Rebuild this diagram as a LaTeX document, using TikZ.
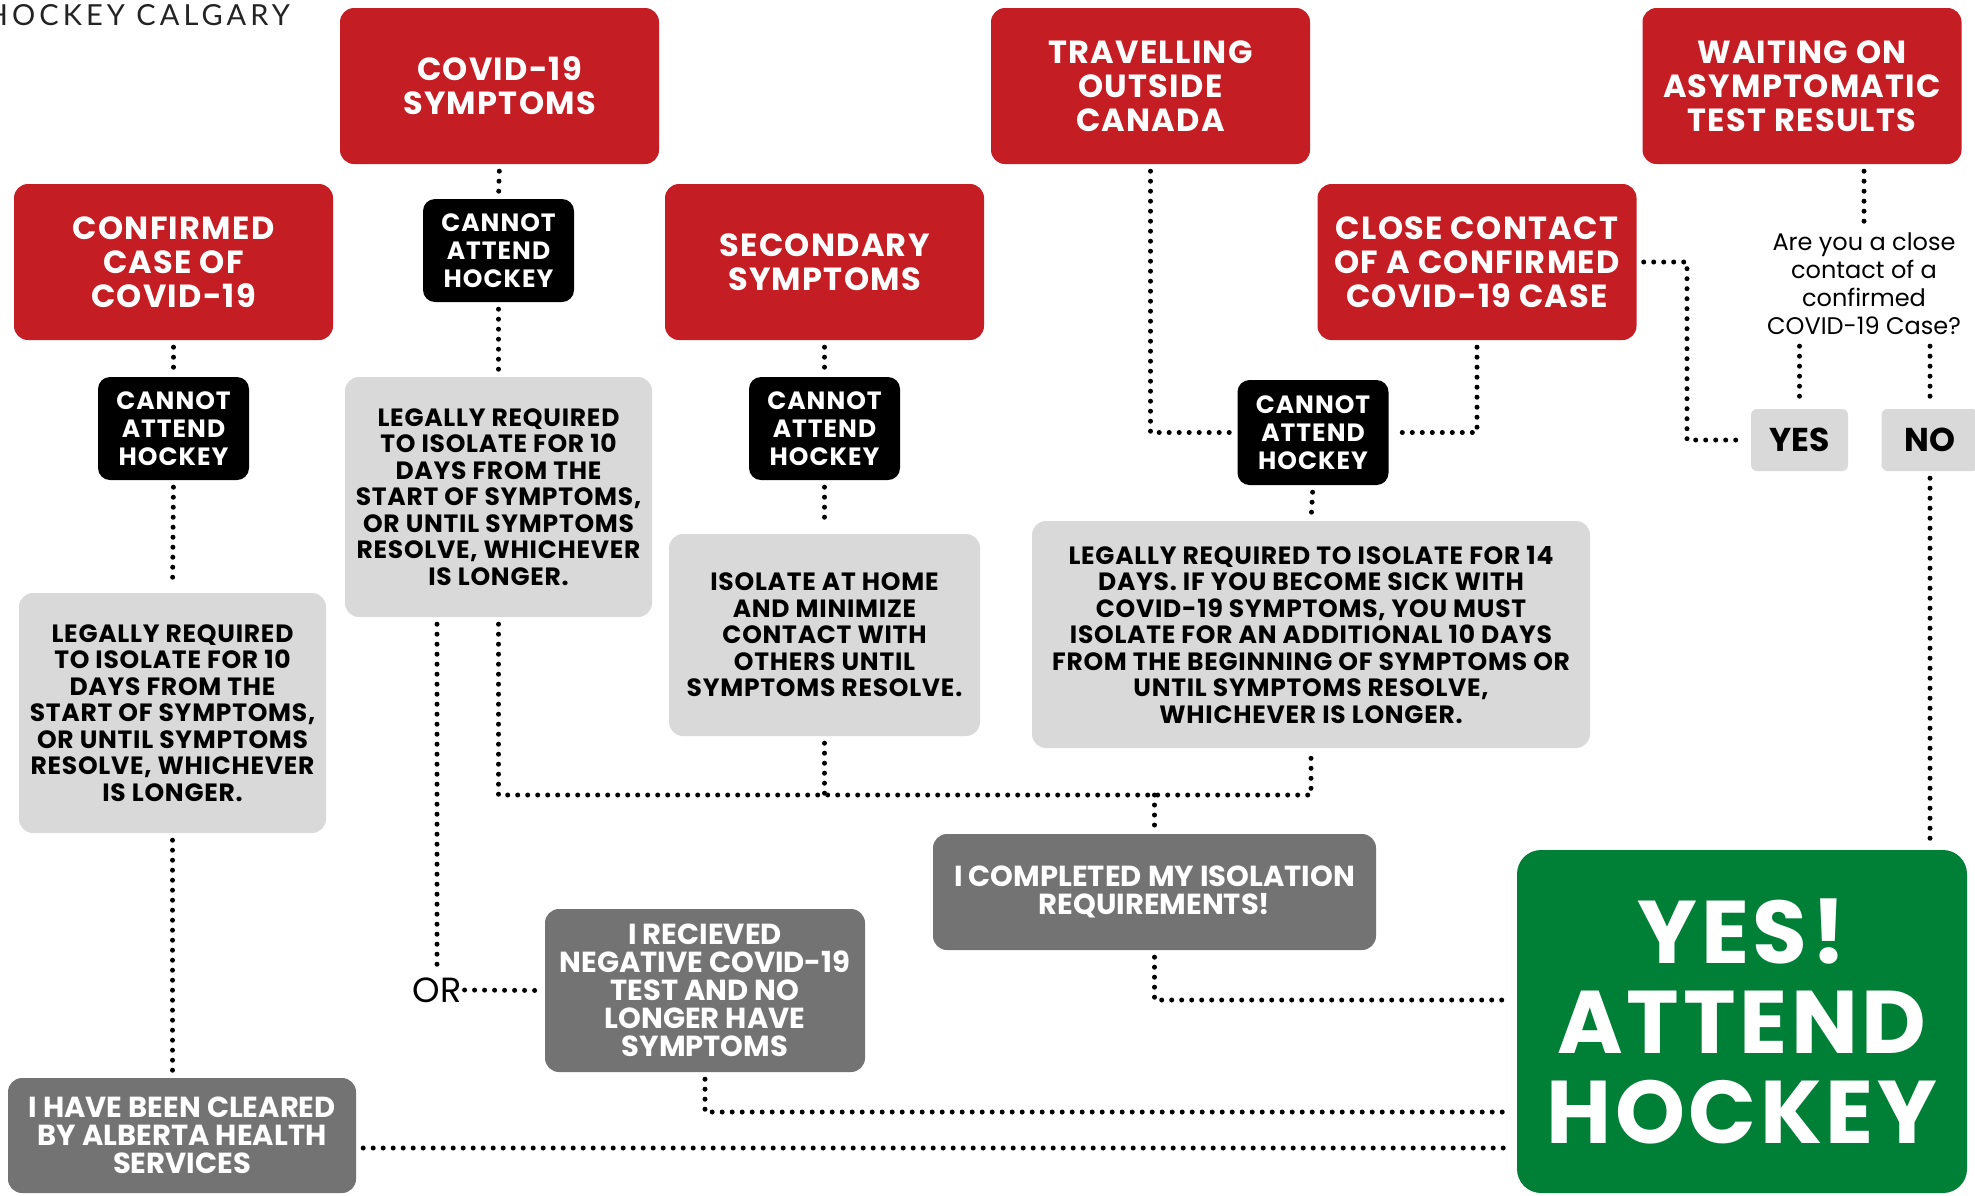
\documentclass[tikz,border=0pt]{standalone}
\usepackage{fontspec}
\setmainfont{Poppins}
\newfontfamily\popwide{Poppins}[LetterSpace=4]
\newfontfamily\popmid{Poppins}[LetterSpace=3]
\newfontfamily\hdrfont{Lato}[LetterSpace=14]
\definecolor{cred}{RGB}{196,30,36}
\definecolor{cgreen}{RGB}{0,128,55}
\definecolor{cltgray}{RGB}{217,217,217}
\definecolor{cdkgray}{RGB}{115,115,115}
\definecolor{chdr}{RGB}{35,35,35}
\begin{document}
\begin{tikzpicture}[x=1pt,y=-1pt,
  box/.style={rectangle, inner sep=0pt, align=center},
  redbox/.style={box, fill=cred, text=white, rounded corners=14pt, minimum width=319pt, minimum height=156pt, font=\popwide\bfseries\fontsize{32}{34}\selectfont},
  blkbox/.style={box, fill=black, text=white, rounded corners=12pt, minimum width=151pt, minimum height=103pt, font=\popwide\bfseries\fontsize{25}{28}\selectfont},
  ltbox/.style={box, fill=cltgray, text=black, rounded corners=14pt, font=\popmid\bfseries\fontsize{25}{26.5}\selectfont},
  dkbox/.style={box, fill=cdkgray, text=white, rounded corners=14pt, font=\bfseries\fontsize{29}{28}\selectfont},
  ansbox/.style={box, fill=cltgray, text=black, rounded corners=6pt, minimum width=97pt, minimum height=62pt, font=\bfseries\fontsize{33}{36}\selectfont},
  greenbox/.style={box, fill=cgreen, text=white, rounded corners=24pt, minimum width=450pt, minimum height=343pt, font=\popwide\bfseries\fontsize{89}{90}\selectfont},
  dots/.style={draw=black, line width=5pt, line cap=round, dash pattern=on 0pt off 10pt},
  gapb/.style={shorten <=7pt},
  gape/.style={shorten >=7pt},
  gap/.style={gapb, gape}
]
\useasboundingbox (0,0) rectangle (1975,1195);
\fill[white] (0,0) rectangle (1975,1195);

% header
\node[anchor=base east, inner sep=0pt, text=chdr, font=\hdrfont\fontsize{29}{29}\selectfont] (hdr) at (290,25) {HOCKEY CALGARY};

% red boxes
\node[redbox] (covid) at (499.5,86) {COVID-19\\SYMPTOMS};
\node[redbox] (travel) at (1150.5,86) {TRAVELLING\\OUTSIDE\\CANADA};
\node[redbox] (waiting) at (1802,86) {WAITING ON\\ASYMPTOMATIC\\TEST RESULTS};
\node[redbox] (confirmed) at (173.5,262) {CONFIRMED\\CASE OF\\COVID-19};
\node[redbox] (secondary) at (824.5,262) {SECONDARY\\SYMPTOMS};
\node[redbox] (close) at (1477,262) {CLOSE CONTACT\\OF A CONFIRMED\\COVID-19 CASE};

% cannot attend
\node[blkbox] (c1) at (498.5,250.5) {CANNOT\\ATTEND\\HOCKEY};
\node[blkbox] (c2) at (173.5,428.5) {CANNOT\\ATTEND\\HOCKEY};
\node[blkbox] (c3) at (824.5,428.5) {CANNOT\\ATTEND\\HOCKEY};
\node[blkbox, minimum height=105pt] (c4) at (1313,432.5) {CANNOT\\ATTEND\\HOCKEY};

% light gray boxes
\node[ltbox, minimum width=307pt, minimum height=240pt] (legal1) at (498.5,497) {LEGALLY REQUIRED\\TO ISOLATE FOR 10\\DAYS FROM THE\\START OF SYMPTOMS,\\OR UNTIL SYMPTOMS\\RESOLVE, WHICHEVER\\IS LONGER.};
\node[ltbox, minimum width=307pt, minimum height=240pt] (legal2) at (172.5,713) {LEGALLY REQUIRED\\TO ISOLATE FOR 10\\DAYS FROM THE\\START OF SYMPTOMS,\\OR UNTIL SYMPTOMS\\RESOLVE, WHICHEVER\\IS LONGER.};
\node[ltbox, minimum width=311pt, minimum height=202pt] (isolate) at (824.5,635) {ISOLATE AT HOME\\AND MINIMIZE\\CONTACT WITH\\OTHERS UNTIL\\SYMPTOMS RESOLVE.};
\node[ltbox, minimum width=558pt, minimum height=227pt] (legal14) at (1311,634.5) {LEGALLY REQUIRED TO ISOLATE FOR 14\\DAYS. IF YOU BECOME SICK WITH\\COVID-19 SYMPTOMS, YOU MUST\\ISOLATE FOR AN ADDITIONAL 10 DAYS\\FROM THE BEGINNING OF SYMPTOMS OR\\UNTIL SYMPTOMS RESOLVE,\\WHICHEVER IS LONGER.};

% question and answers
\node[box, inner sep=4pt, text=black, font=\fontsize{24}{28}\selectfont] (q) at (1864,284) {Are you a close\\contact of a\\confirmed\\COVID-19 Case?};
\node[ansbox] (yes) at (1799.5,440) {YES};
\node[ansbox] (no) at (1930,440) {NO};

% dark gray boxes
\node[dkbox, minimum width=443pt, minimum height=116pt] (completed) at (1154.5,892) {I COMPLETED MY ISOLATION\\REQUIREMENTS!};
\node[dkbox, minimum width=320pt, minimum height=163pt] (received) at (705,990.5) {I RECIEVED\\NEGATIVE COVID-19\\TEST AND NO\\LONGER HAVE\\SYMPTOMS};
\node[dkbox, minimum width=348pt, minimum height=115pt] (cleared) at (182,1135.5) {I HAVE BEEN CLEARED\\BY ALBERTA HEALTH\\SERVICES};

% OR label
\node[inner sep=3pt, text=black, font=\fontsize{35}{35}\selectfont] (orl) at (437,990) {OR};

% green
\node[greenbox] (green) at (1742,1021.5) {YES!\\ATTEND\\HOCKEY};

% helper coordinates
\coordinate (hy) at (0,795);
\coordinate (cy) at (0,1000);
\coordinate (ry) at (0,1112);
\coordinate (ay) at (0,1148);
\coordinate (bend) at (1687,262);

% connectors
\draw[dots, gap] (covid.south) -- (c1.north);
\draw[dots, gap] (c1.south) -- (legal1.north);
\draw[dots, gap] (confirmed.south) -- (c2.north);
\draw[dots, gap] (c2.south) -- (legal2.north);
\draw[dots, gap] (legal2.south) -- (legal2.south |- cleared.north);
\draw[dots, gap] (cleared.east |- ay) -- (green.west |- ay);
\draw[dots, gap] (legal1.south -| orl.north) -- (orl.north);
\draw[dots, gape] (orl.east) -- (received.west);
\draw[dots, gap] (legal1.south) -- (legal1.south |- hy) -- (legal14.south |- hy) -- (legal14.south);
\draw[dots, gapb] (isolate.south) -- (isolate.south |- hy);
\draw[dots, gape] (completed.north |- hy) -- (completed.north);
\draw[dots, gap] (secondary.south) -- (c3.north);
\draw[dots, gap] (c3.south) -- (isolate.north);
\draw[dots, gap] (travel.south) -- (travel.south |- c4.west) -- (c4.west);
\draw[dots, gap] (close.south) -- (close.south |- c4.east) -- (c4.east);
\draw[dots, gap] (c4.south) -- (legal14.north);
\draw[dots, gap] (close.east) -- (bend) -- (bend |- yes.west) -- (yes.west);
\draw[dots, gap] (q.north |- waiting.south) -- (q.north);
\draw[dots, gap] (yes.north |- q.south) -- (yes.north);
\draw[dots, gap] (no.north |- q.south) -- (no.north);
\draw[dots, gap] (no.south) -- (no.south |- green.north);
\draw[dots, gap] (completed.south) -- (completed.south |- cy) -- (green.west |- cy);
\draw[dots, gap] (received.south) -- (received.south |- ry) -- (green.west |- ry);
\end{tikzpicture}
\end{document}
